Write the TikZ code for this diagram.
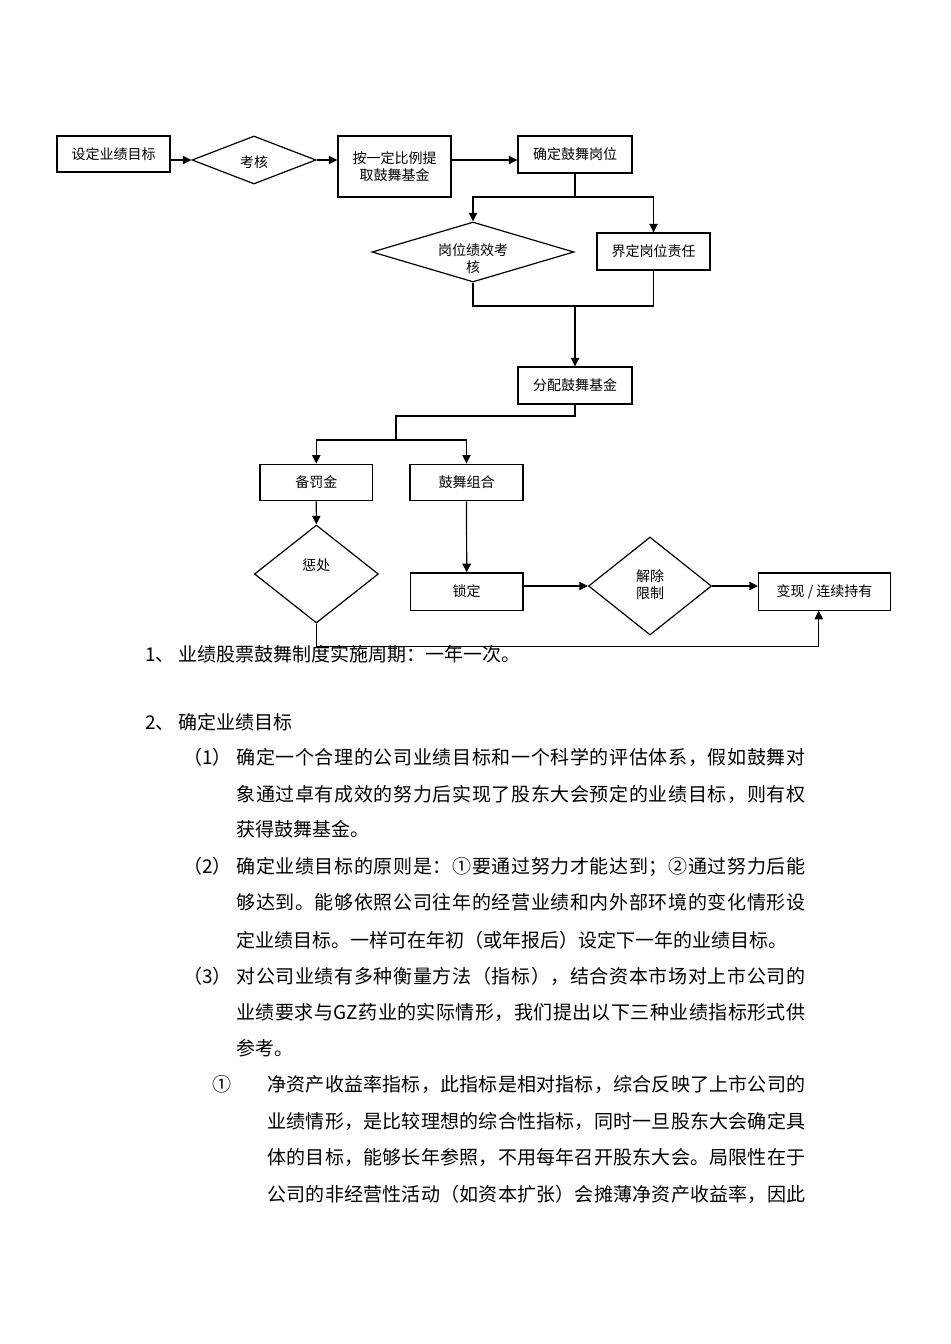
\documentclass[tikz,border=0pt]{standalone}
\usepackage{fontspec}
\setmainfont{Noto Sans CJK SC}
\usetikzlibrary{shapes.geometric,arrows.meta}
\makeatletter
\def\jl@end{}
\newcommand\jl[2]{\hbox to #1{\jl@first#2\jl@end}}
\def\jl@first#1{#1\jl@b}
\def\jl@b#1{\ifx#1\jl@end\else\hfil#1\expandafter\jl@b\fi}
\makeatother
\newcommand\fsm{\fontsize{7pt}{8.6pt}\selectfont}
\newcommand\fbody{\fontsize{9.5pt}{11pt}\selectfont}
\begin{document}
\begin{tikzpicture}[x=0.5pt,y=-0.5pt,
  box/.style={draw,line width=0.6pt,inner sep=1pt,align=center,font=\fsm},
  dia/.style={draw,diamond,line width=0.6pt,inner sep=0pt},
  lbl/.style={inner sep=0pt,align=center,font=\fsm},
  con/.style={line width=0.6pt},
  arr/.style={line width=0.6pt,-{Triangle[length=4.3pt,width=4.2pt]}},
  txt/.style={anchor=west,inner sep=0pt,font=\fbody,text height=7.9pt,text depth=1.1pt}]
\useasboundingbox (0,0) rectangle (950,1344);
\fill[white] (0,0) rectangle (950,1344);

% flowchart nodes
\node[box,minimum width=56.5pt,minimum height=18pt] (n1) at (113.5,154) {设定业绩目标};
\node[dia,minimum width=62pt,minimum height=24pt] (d1) at (254,160) {};
\node[lbl] (l1) at (254,162) {考核};
\node[box,minimum width=56.5pt,minimum height=30.5pt] (n2) at (394.5,166.5) {按一定比例提\\取鼓舞基金};
\node[box,minimum width=57pt,minimum height=18.5pt] (n3) at (575,154.5) {确定鼓舞岗位};
\node[dia,minimum width=101pt,minimum height=30pt] (d2) at (473,252) {};
\node[lbl] (l2) at (473,259) {岗位绩效考\\核};
\node[box,minimum width=56.5pt,minimum height=18.5pt] (n4) at (653.5,251.5) {界定岗位责任};
\node[box,minimum width=57pt,minimum height=18.5pt] (n5) at (575,385.5) {分配鼓舞基金};
\node[box,minimum width=56.3pt,minimum height=18.3pt] (n6) at (316.3,482.5) {备罚金};
\node[box,minimum width=56.5pt,minimum height=18.3pt] (n7) at (466.5,482.5) {鼓舞组合};
\node[dia,minimum width=62pt,minimum height=49pt] (d3) at (316.4,574) {};
\node[lbl] (l3) at (316.4,565) {惩处};
\node[box,minimum width=56.3pt,minimum height=18.6pt] (n8) at (466.7,591.5) {锁定};
\node[dia,minimum width=61.5pt,minimum height=49pt] (d4) at (650,586) {};
\node[lbl] (l4) at (650,585) {解除\\限制};
\node[box,minimum width=66pt,minimum height=18.6pt] (n9) at (824.6,591.5) {变现 / 连续持有};

% junctions
\coordinate (j1) at (575,197);
\coordinate (j2) at (575,306);
\coordinate (j3) at (396,416);
\coordinate (j4) at (396,440);
\coordinate (j5) at (818.7,646.7);

% connectors
\draw[arr] (n1.east |- d1.west) -- (d1.west);
\draw[arr] (d1.east) -- (d1.east -| n2.west);
\draw[arr] (n2.east |- d1.east) -- (n3.west |- d1.east);
\draw[con] (n3.south) -- (j1);
\draw[arr] (j1) -| (d2.north);
\draw[arr] (j1) -| (n4.north);
\draw[con] (d2.south) |- (j2);
\draw[con] (n4.south) |- (j2);
\draw[arr] (j2) -- (n5.north);
\draw[con] (n5.south) |- (j3) -- (j4);
\draw[arr] (j4) -| (n6.north);
\draw[arr] (j4) -| (n7.north);
\draw[arr] (n6.south) -- (d3.north);
\draw[arr] (n7.south) -- (n8.north);
\draw[arr] (n8.east |- d4.west) -- (d4.west);
\draw[arr] (d4.east) -- (d4.east -| n9.west);
\draw[arr] (d3.south) |- (j5) -- (j5 |- n9.south);

% body text
\node[txt] (t1a) at (145,655) {1、};
\node[txt] (t1b) at (178,655) {业绩股票鼓舞制度实施周期：一年一次。};
\node[txt] (t2a) at (145,723) {2、};
\node[txt] (t2b) at (178,723) {确定业绩目标};
\node[txt] (p1a) at (183,758) {（1）};
\node[txt] (p1b) at (236,758) {\jl{284.5pt}{确定一个合理的公司业绩目标和一个科学的评估体系，假如鼓舞对}};
\node[txt] (p1c) at (236,795) {\jl{284.5pt}{象通过卓有成效的努力后实现了股东大会预定的业绩目标，则有权}};
\node[txt] (p1d) at (236,830) {获得鼓舞基金。};
\node[txt] (p2a) at (183,867) {（2）};
\node[txt] (p2b) at (236,867) {\jl{284.5pt}{确定业绩目标的原则是：①要通过努力才能达到；②通过努力后能}};
\node[txt] (p2c) at (236,903) {\jl{284.5pt}{够达到。能够依照公司往年的经营业绩和内外部环境的变化情形设}};
\node[txt] (p2d) at (236,941) {定业绩目标。一样可在年初（或年报后）设定下一年的业绩目标。};
\node[txt] (p3a) at (183,977) {（3）};
\node[txt] (p3b) at (236,977) {\jl{284.5pt}{对公司业绩有多种衡量方法（指标），结合资本市场对上市公司的}};
\node[txt] (p3c) at (236,1013) {\jl{284.5pt}{业绩要求与{GZ}药业的实际情形，我们提出以下三种业绩指标形式供}};
\node[txt] (p3d) at (236,1049) {参考。};
\node[txt] (q1a) at (212,1085) {①};
\node[txt] (q1b) at (267,1085) {\jl{269pt}{净资产收益率指标，此指标是相对指标，综合反映了上市公司的}};
\node[txt] (q1c) at (267,1122) {\jl{269pt}{业绩情形，是比较理想的综合性指标，同时一旦股东大会确定具}};
\node[txt] (q1d) at (267,1158) {\jl{269pt}{体的目标，能够长年参照，不用每年召开股东大会。局限性在于}};
\node[txt] (q1e) at (267,1195) {\jl{269pt}{公司的非经营性活动（如资本扩张）会摊薄净资产收益率，因此}};
\end{tikzpicture}
\end{document}
